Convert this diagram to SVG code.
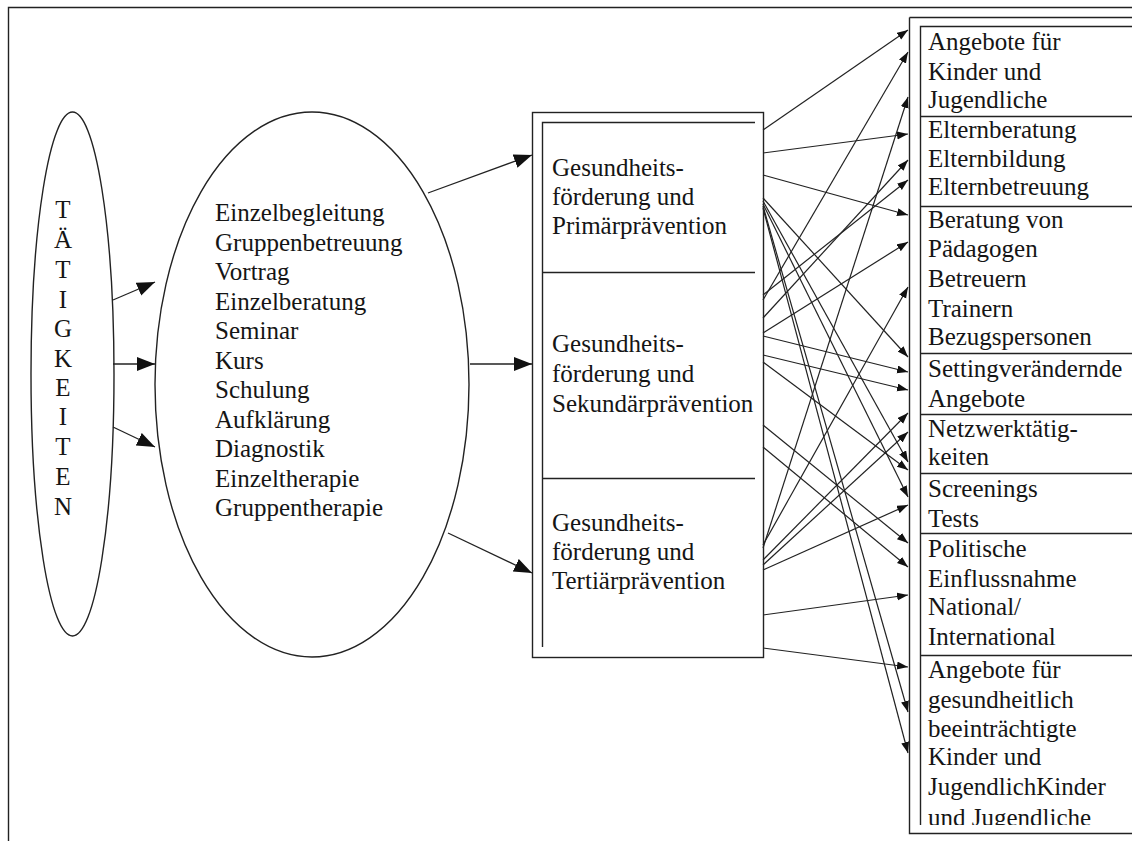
<svg xmlns="http://www.w3.org/2000/svg" width="1132" height="841" viewBox="0 0 1132 841">
<defs>
<style>
.t{font-family:'Liberation Serif','Tinos','DejaVu Serif','Times New Roman',serif;font-size:25px;fill:#151515}
.ln{fill:none;stroke:#222;stroke-width:1.4}
.c{fill:none;stroke:#222;stroke-width:1.2}
.a{fill:none;stroke:#222;stroke-width:1.3}
</style>
<marker id="big" markerUnits="userSpaceOnUse" markerWidth="20" markerHeight="16" refX="18" refY="7" orient="auto"><path d="M0,0 L18,7 L0,14 z" fill="#111"/></marker>
<marker id="sm" markerUnits="userSpaceOnUse" markerWidth="12" markerHeight="10" refX="11" refY="4" orient="auto"><path d="M0,0 L11,4 L0,8 z" fill="#111"/></marker>
<clipPath id="rc"><rect x="920" y="26" width="220" height="799"/></clipPath>
</defs>
<rect x="0" y="0" width="1132" height="841" fill="#fff"/>
<g id="frame"><path class="ln" d="M8.5,845 V7.5 H1140"/></g>

<g id="taetigkeiten">
<ellipse class="ln" cx="72.5" cy="374" rx="41.5" ry="262"/>
<text class="t" font-family="Liberation Serif, serif" text-anchor="middle">
<tspan x="63" y="218">T</tspan><tspan x="63" y="248">Ä</tspan><tspan x="63" y="278">T</tspan><tspan x="63" y="308">I</tspan><tspan x="63" y="337">G</tspan><tspan x="63" y="367">K</tspan><tspan x="63" y="396">E</tspan><tspan x="63" y="425">I</tspan><tspan x="63" y="455">T</tspan><tspan x="63" y="485">E</tspan><tspan x="63" y="515">N</tspan>
</text>
</g>

<g id="methoden">
<ellipse class="ln" cx="312" cy="384.5" rx="157" ry="272.5"/>
<text class="t">
<tspan x="215" y="221">Einzelbegleitung</tspan>
<tspan x="215" y="250.5">Gruppenbetreuung</tspan>
<tspan x="215" y="280">Vortrag</tspan>
<tspan x="215" y="309.5">Einzelberatung</tspan>
<tspan x="215" y="339">Seminar</tspan>
<tspan x="215" y="368.5">Kurs</tspan>
<tspan x="215" y="398">Schulung</tspan>
<tspan x="215" y="427.5">Aufklärung</tspan>
<tspan x="215" y="457">Diagnostik</tspan>
<tspan x="215" y="486.5">Einzeltherapie</tspan>
<tspan x="215" y="516">Gruppentherapie</tspan>
</text>
</g>

<g id="praevention">
<rect class="ln" x="532.5" y="112.5" width="231" height="545" fill="#fff"/>
<path class="ln" d="M542.5,647 V122.5 H755 M542.5,272.5 H755 M542.5,478.5 H755"/>
<g id="primaer"><text class="t"><tspan x="552" y="176">Gesundheits-</tspan><tspan x="552" y="205">förderung und</tspan><tspan x="552" y="234">Primärprävention</tspan></text></g>
<g id="sekundaer"><text class="t"><tspan x="552" y="352">Gesundheits-</tspan><tspan x="552" y="382">förderung und</tspan><tspan x="552" y="412">Sekundärprävention</tspan></text></g>
<g id="tertiaer"><text class="t"><tspan x="552" y="531">Gesundheits-</tspan><tspan x="552" y="560">förderung und</tspan><tspan x="552" y="589">Tertiärprävention</tspan></text></g>
</g>

<g id="angebote">
<path class="ln" d="M909.5,17.5 H1140 M909.5,17.5 V833.5 H1140"/>
<path class="ln" d="M920.5,825 V26.5 H1140 M920.5,116.5 H1140 M920.5,206.5 H1140 M920.5,353.5 H1140 M920.5,414.5 H1140 M920.5,473.5 H1140 M920.5,533.5 H1140 M920.5,655.5 H1140"/>
<g id="kinder"><text class="t"><tspan x="928" y="50">Angebote für</tspan><tspan x="928" y="80">Kinder und</tspan><tspan x="928" y="108">Jugendliche</tspan></text></g>
<g id="eltern"><text class="t"><tspan x="928" y="138">Elternberatung</tspan><tspan x="928" y="167">Elternbildung</tspan><tspan x="928" y="195">Elternbetreuung</tspan></text></g>
<g id="beratung"><text class="t"><tspan x="928" y="228">Beratung von</tspan><tspan x="928" y="257">Pädagogen</tspan><tspan x="928" y="287">Betreuern</tspan><tspan x="928" y="317">Trainern</tspan><tspan x="928" y="345">Bezugspersonen</tspan></text></g>
<g id="setting"><text class="t"><tspan x="928" y="377">Settingverändernde</tspan><tspan x="928" y="407">Angebote</tspan></text></g>
<g id="netzwerk"><text class="t"><tspan x="928" y="437">Netzwerktätig-</tspan><tspan x="928" y="465">keiten</tspan></text></g>
<g id="screenings"><text class="t"><tspan x="928" y="497">Screenings</tspan><tspan x="928" y="527">Tests</tspan></text></g>
<g id="politik"><text class="t"><tspan x="928" y="557">Politische</tspan><tspan x="928" y="587">Einflussnahme</tspan><tspan x="928" y="615">National/</tspan><tspan x="928" y="645">International</tspan></text></g>
<g id="gesundheitlich" clip-path="url(#rc)"><text class="t"><tspan x="928" y="678">Angebote für</tspan><tspan x="928" y="708">gesundheitlich</tspan><tspan x="928" y="737">beeinträchtigte</tspan><tspan x="928" y="765">Kinder und</tspan><tspan x="928" y="795">JugendlichKinder</tspan><tspan x="928" y="826">und Jugendliche</tspan></text></g>
</g>

<g id="connectors">
<g class="a" marker-end="url(#big)">
<path d="M113,300 L155,282"/>
<path d="M113,364 L155,364"/>
<path d="M113,427 L155,447"/>
<path d="M428,193 L532,155"/>
<path d="M470,364 L532,364"/>
<path d="M448,533 L532,573"/>
</g>
<g class="c" marker-end="url(#sm)">
<path d="M763,130 L908,30"/>
<path d="M763,153 L908,134"/>
<path d="M763,175 L908,215"/>
<path d="M763,198 L908,357"/>
<path d="M763,201 L908,462"/>
<path d="M763,204 L908,497"/>
<path d="M763,206 L908,712"/>
<path d="M763,208 L908,753"/>
<path d="M763,300 L908,52"/>
<path d="M763,295 L908,180"/>
<path d="M763,318 L908,160"/>
<path d="M763,333 L908,242"/>
<path d="M763,336 L908,372"/>
<path d="M763,355 L908,390"/>
<path d="M763,362 L908,470"/>
<path d="M763,425 L908,543"/>
<path d="M763,447 L908,567"/>
<path d="M763,548 L908,97"/>
<path d="M763,545 L908,287"/>
<path d="M763,560 L908,413"/>
<path d="M763,565 L908,432"/>
<path d="M763,570 L908,505"/>
<path d="M763,615 L908,595"/>
<path d="M763,648 L908,667"/>
</g>
</g>
</svg>
